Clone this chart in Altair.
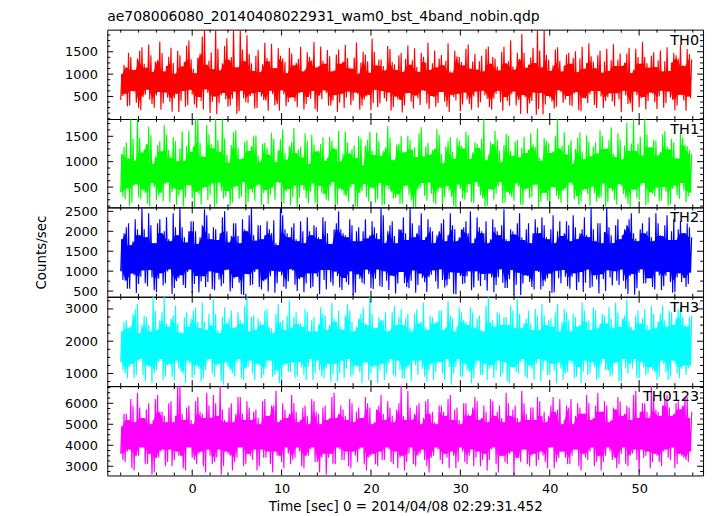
import altair as alt
import pandas as pd

FONT = "DejaVu Sans"
TITLE = "ae708006080_20140408022931_wam0_bst_4band_nobin.qdp"
X_TITLE = "Time [sec] 0 = 2014/04/08 02:29:31.452"
Y_TITLE = "Counts/sec"
NAMES = ["TH0", "TH1", "TH2", "TH3", "TH0123"]
COLORS = ["#ff0000", "#00ff00", "#0000ff", "#00ffff", "#ff00ff"]

# hand-read samples: within each 0.5 s step the curve goes lo -> hi -> lo2 -> hi2
T_START = -8.0
T_STEP = 0.5

X_DOMAIN = [-9.5, 57.15]
X_MAJOR = [0, 10, 20, 30, 40, 50]
X_MINOR = [-8, -6, -4, -2, 2, 4, 6, 8, 12, 14, 16, 18, 22, 24, 26, 28, 32, 34, 36, 38,
           42, 44, 46, 48, 52, 54, 56]

Y_DOMAINS = [[-5, 1995], [100, 1840], [358, 2600], [609, 3378], [2560, 6819]]
Y_MAJOR = [[500, 1000, 1500], [500, 1000, 1500], [500, 1000, 1500, 2000, 2500],
           [1000, 2000, 3000], [3000, 4000, 5000, 6000]]
Y_MINOR_STEP = [125, 125, 250, 250, 250]

TH0_HI = [1000, 1150, 1380, 1090, 1520, 1230, 1660, 1050, 1310, 1470,
          1180, 1590, 1010, 1420, 1270, 1750, 1120, 1360, 1840, 1210,
          1490, 1990, 1080, 1630, 1320, 1990, 1150, 1550, 1870, 1240,
          1410, 1040, 1700, 1290, 1130, 1580, 1350, 1020, 1460, 1250,
          1610, 1100, 1390, 1720, 1170, 1300, 1540, 1060, 1440, 1230,
          1650, 1140, 1370, 1010, 1500, 1280, 1790, 1190, 1330, 1080,
          1560, 1220, 1420, 1050, 1640, 1310, 1160, 1480, 1260, 1090,
          1530, 1350, 1200, 1690, 1030, 1400, 1270, 1570, 1120, 1450,
          1290, 1060, 1620, 1380, 1170, 1500, 1240, 1760, 1100, 1340,
          1470, 1210, 1590, 1990, 1150, 1430, 1070, 1550, 1300, 1190,
          1480, 1360, 1040, 1610, 1250, 1400, 1130, 1520, 1280, 1070,
          1670, 1320, 1180, 1460, 1020, 1570, 1230, 1380, 1140, 1490,
          1310, 1060, 1600, 1260, 1420, 1650, 1180, 1450]
TH0_LO = [420, 560, 300, 610, 240, 480, 650, 330, 520, 200,
          590, 380, 460, 150, 620, 310, 540, 250, 400, 660,
          130, 500, 350, 580, 270, 450, 110, 630, 370, 510,
          230, 600, 420, 180, 550, 330, 640, 280, 470, 390,
          570, 210, 490, 620, 160, 440, 580, 300, 530, 360,
          240, 610, 410, 560, 290, 500, 190, 650, 340, 460,
          590, 260, 430, 140, 570, 380, 520, 310, 620, 220,
          480, 350, 600, 270, 540, 410, 170, 590, 330, 500,
          250, 630, 450, 200, 560, 370, 490, 290, 610, 420,
          530, 120, 400, 90, 580, 320, 470, 230, 640, 360,
          510, 280, 600, 170, 450, 550, 310, 620, 240, 480,
          390, 570, 150, 520, 340, 610, 260, 490, 400, 560,
          220, 630, 350, 470, 190, 540, 410, 500]
TH0_HI2 = [1210, 1480, 1090, 1350, 1600, 1140, 1420, 1280, 1730, 1060,
           1390, 1250, 1520, 1170, 1640, 1330, 1020, 1460, 1990, 1300,
           1110, 1570, 1240, 1800, 1380, 1160, 1990, 1290, 1450, 1070,
           1540, 1220, 1360, 1680, 1130, 1410, 1270, 1590, 1190, 1340,
           1060, 1490, 1310, 1150, 1620, 1230, 1400, 1080, 1550, 1280,
           1360, 1120, 1710, 1260, 1440, 1030, 1500, 1320, 1180, 1630,
           1270, 1090, 1470, 1340, 1210, 1580, 1050, 1390, 1700, 1240,
           1150, 1430, 1300, 1060, 1520, 1380, 1190, 1660, 1280, 1100,
           1410, 1560, 1230, 1350, 1080, 1610, 1290, 1170, 1480, 1900,
           1140, 1370, 1250, 1530, 1990, 1320, 1200, 1600, 1060, 1440,
           1230, 1510, 1350, 1120, 1690, 1280, 1420, 1030, 1570, 1310,
           1180, 1460, 1260, 1590, 1100, 1380, 1720, 1240, 1410, 1160,
           1530, 1290, 1070, 1470, 1350, 1200, 1560, 1330]
TH0_LO2 = [510, 280, 620, 360, 190, 540, 430, 250, 600, 340,
           470, 160, 560, 400, 270, 650, 320, 490, 210, 580,
           380, 100, 530, 440, 290, 610, 170, 460, 350, 570,
           240, 500, 410, 630, 300, 180, 550, 370, 480, 260,
           600, 330, 450, 220, 520, 640, 290, 410, 150, 560,
           470, 310, 590, 200, 430, 540, 350, 260, 620, 390,
           180, 500, 420, 300, 580, 230, 460, 640, 340, 510,
           270, 600, 380, 150, 490, 560, 320, 430, 200, 610,
           370, 520, 260, 450, 630, 180, 400, 550, 300, 110,
           480, 340, 590, 220, 100, 510, 380, 270, 600, 430,
           310, 560, 190, 470, 350, 620, 240, 500, 400, 570,
           280, 440, 630, 330, 160, 530, 460, 210, 590, 370,
           500, 250, 610, 420, 300, 540, 180, 460]

TH1_HI = [1150, 1380, 1837, 1020, 1470, 1240, 1690, 960, 1330, 1200,
          1540, 1080, 1400, 1260, 1010, 1610, 1300, 1837, 1120, 1720,
          1350, 1837, 1190, 1460, 980, 1580, 1270, 1060, 1420, 1310,
          1520, 990, 1370, 1140, 1450, 1230, 1640, 1040, 1390, 1170,
          1290, 1560, 950, 1340, 1210, 1480, 1070, 1410, 1250, 1000,
          1600, 1160, 1320, 1500, 930, 1430, 1220, 1570, 1110, 1280,
          1470, 1030, 1360, 1180, 1510, 1240, 1090, 1680, 1300, 1130,
          1260, 1530, 970, 1400, 1190, 1460, 1320, 1590, 1050, 1380,
          1270, 1837, 1120, 1350, 1440, 990, 1550, 1210, 1390, 1080,
          1490, 1230, 1340, 1650, 1020, 1410, 1170, 1500, 1260, 1580,
          1330, 960, 1470, 1200, 1520, 1100, 1380, 1620, 1250, 1420,
          1150, 1560, 1040, 1760, 1360, 1210, 1490, 1837, 1280, 1430,
          1120, 1540, 1300, 1450, 1070, 1570, 1340, 1230]
TH1_LO = [400, 260, 130, 520, 300, 450, 170, 580, 240, 390,
          560, 200, 470, 330, 120, 540, 280, 410, 150, 500,
          350, 110, 590, 270, 430, 190, 520, 310, 120, 460,
          230, 550, 380, 160, 490, 600, 220, 420, 140, 530,
          290, 440, 180, 570, 120, 380, 250, 510, 160, 470,
          340, 210, 560, 110, 420, 300, 490, 190, 580, 150,
          450, 270, 360, 170, 530, 240, 110, 480, 330, 590,
          200, 410, 140, 520, 310, 110, 460, 250, 560, 180,
          500, 280, 130, 440, 370, 600, 190, 350, 230, 510,
          140, 470, 300, 550, 210, 390, 110, 490, 260, 430,
          170, 540, 320, 220, 460, 130, 380, 280, 570, 200,
          420, 150, 510, 290, 110, 450, 240, 580, 180, 370,
          490, 230, 410, 160, 530, 270, 440, 320]
TH1_HI2 = [1290, 1060, 1450, 1837, 1180, 1350, 1520, 1100, 1400, 1720,
           1230, 1480, 1010, 1600, 1310, 1190, 1837, 1370, 1090, 1540,
           1260, 1430, 1837, 1140, 1330, 1620, 1050, 1390, 1210, 1500,
           1120, 1360, 1280, 1570, 990, 1440, 1170, 1310, 1660, 1240,
           1080, 1410, 1530, 1200, 1350, 1020, 1490, 1270, 1610, 1150,
           1380, 1250, 1070, 1460, 1320, 1590, 1130, 1400, 1210, 1700,
           1040, 1340, 1500, 1190, 1420, 1280, 1560, 1100, 1370, 1230,
           1640, 1160, 1300, 1480, 1060, 1410, 1260, 1520, 1180, 1350,
           1450, 1030, 1390, 1610, 1220, 1330, 1510, 1110, 1430, 1270,
           1170, 1560, 1290, 1080, 1470, 1370, 1200, 1837, 1310, 1140,
           1420, 1250, 1580, 1050, 1390, 1300, 1160, 1500, 1260, 1680,
           1090, 1440, 1320, 1210, 1837, 1360, 1120, 1540, 1280, 1410,
           1190, 1600, 1240, 1380, 1060, 1470, 1310, 1150]
TH1_LO2 = [310, 470, 190, 560, 260, 380, 120, 500, 330, 220,
           590, 400, 150, 450, 290, 530, 110, 360, 480, 240,
           570, 170, 420, 310, 130, 490, 270, 600, 200, 390,
           510, 140, 440, 350, 250, 580, 180, 460, 300, 110,
           540, 280, 410, 190, 520, 360, 230, 600, 150, 430,
           320, 490, 120, 380, 560, 210, 470, 260, 140, 530,
           400, 290, 170, 510, 350, 110, 450, 580, 230, 370,
           160, 490, 300, 420, 130, 550, 270, 390, 200, 600,
           340, 120, 460, 250, 520, 180, 410, 310, 570, 150,
           440, 280, 540, 110, 380, 230, 500, 330, 190, 470,
           590, 260, 140, 430, 360, 510, 210, 300, 120, 480,
           250, 560, 370, 170, 450, 290, 530, 140, 400, 320,
           220, 500, 130, 460, 340, 580, 200, 390]

TH2_HI = [1800, 2100, 1650, 2300, 1900, 2050, 2450, 1700, 2200, 1950,
          2350, 1750, 2100, 2600, 1850, 2000, 2250, 1680, 2150, 2400,
          1800, 2050, 1950, 2500, 1720, 2200, 1880, 2300, 2000, 2600,
          1760, 2150, 1900, 2050, 2280, 1650, 2400, 1950, 2100, 1800,
          2250, 1700, 2000, 2150, 1850, 2350, 1950, 1680, 2200, 2050,
          1900, 2300, 1750, 2100, 2000, 1820, 2250, 1950, 2600, 1700,
          2150, 1880, 2050, 2350, 1780, 2200, 1950, 2450, 1850, 2100,
          1700, 2000, 2300, 1900, 2150, 1750, 2050, 2250, 2500, 1820,
          2100, 1950, 1700, 2300, 2000, 2150, 1800, 2050, 1920, 2450,
          1780, 2200, 1950, 2100, 2350, 1850, 2050, 1700, 2250, 1950,
          2150, 2400, 1800, 2050, 1900, 2600, 1750, 2200, 1980, 2100,
          1700, 2300, 1900, 2150, 2450, 1820, 2050, 1950, 2350, 1750,
          2200, 1880, 2400, 2000, 1780, 2250, 1950, 2100]
TH2_LO = [1000, 760, 560, 900, 680, 1020, 620, 840, 470, 950,
          700, 1050, 580, 820, 650, 980, 450, 880, 740, 600,
          1000, 520, 790, 690, 1040, 570, 860, 420, 930, 640,
          980, 600, 750, 490, 1010, 700, 890, 560, 1050, 660,
          800, 470, 950, 610, 860, 1030, 540, 720, 990, 590,
          830, 660, 400, 920, 710, 1040, 570, 810, 630, 1000,
          530, 870, 690, 980, 600, 760, 460, 940, 720, 850,
          1020, 560, 780, 640, 970, 420, 880, 700, 1000, 590,
          760, 930, 510, 840, 650, 1050, 580, 800, 400, 960,
          690, 880, 600, 1010, 540, 750, 940, 470, 820, 1030,
          620, 860, 530, 980, 710, 580, 900, 440, 800, 1020,
          640, 760, 1040, 560, 870, 410, 960, 690, 820, 600,
          990, 520, 880, 730, 470, 950, 830, 680]
TH2_HI2 = [1950, 2200, 1750, 2050, 2600, 1850, 2150, 1700, 2300, 2000,
           1800, 2450, 1900, 2100, 1720, 2250, 2000, 1850, 2550, 1950,
           2100, 1780, 2350, 2000, 1880, 2200, 1700, 2050, 2400, 1900,
           2150, 1800, 2250, 1950, 1700, 2600, 2050, 1850, 2200, 1750,
           2000, 2350, 1900, 2100, 1800, 2250, 1680, 2050, 2500, 1950,
           1850, 2150, 2000, 1750, 2300, 1900, 2100, 1800, 2400, 2000,
           2250, 1700, 2050, 1950, 2600, 1850, 2150, 1780, 2300, 2000,
           1900, 2200, 1750, 2450, 2050, 1850, 2100, 1950, 1700, 2350,
           2000, 2250, 1800, 2100, 1900, 2550, 1750, 2000, 2200, 1850,
           2050, 1700, 2300, 1950, 2150, 1800, 2400, 2000, 1880, 2250,
           1750, 2100, 1950, 2350, 1850, 2050, 2200, 1700, 2600, 1900,
           2150, 1800, 2050, 2300, 1950, 1750, 2200, 2000, 1850, 2450,
           1900, 2150, 1780, 2300, 2050, 1950, 2200, 1850]
TH2_LO2 = [780, 560, 940, 450, 860, 700, 1030, 520, 810, 640,
           990, 430, 750, 900, 580, 1040, 680, 470, 870, 730,
           550, 960, 620, 1020, 490, 830, 710, 400, 920, 660,
           1050, 540, 790, 870, 460, 990, 610, 740, 1010, 500,
           850, 690, 570, 950, 420, 780, 1030, 640, 880, 530,
           720, 1000, 460, 810, 670, 930, 550, 1040, 600, 760,
           890, 440, 980, 700, 570, 1020, 650, 830, 480, 910,
           740, 1050, 590, 800, 430, 960, 680, 870, 520, 1000,
           630, 770, 940, 470, 850, 710, 580, 1030, 660, 400,
           900, 730, 540, 980, 620, 820, 450, 1010, 690, 860,
           560, 950, 720, 480, 1040, 610, 790, 920, 500, 840,
           1000, 650, 760, 430, 930, 570, 1050, 700, 820, 540,
           890, 620, 980, 460, 840, 730, 600, 960]

TH3_HI = [2300, 2650, 2450, 3000, 2250, 2800, 2500, 3378, 2350, 2900,
          2550, 2700, 3100, 2300, 2750, 2450, 2950, 2600, 3200, 2350,
          2500, 2850, 2250, 3050, 2700, 2400, 2900, 2550, 3378, 2750,
          2350, 2600, 2950, 2450, 2250, 3150, 2650, 2800, 2400, 2900,
          2550, 3000, 2300, 2750, 2500, 2850, 2350, 3200, 2600, 2450,
          2800, 2950, 2300, 2700, 3050, 2500, 2850, 2400, 2650, 2900,
          2350, 3100, 2750, 2500, 2850, 2300, 3000, 2600, 2450, 2800,
          2550, 2950, 2350, 3250, 2700, 2450, 2900, 2600, 3050, 2400,
          2800, 2300, 3378, 2650, 2900, 2500, 2750, 3100, 2400, 2850,
          2550, 2950, 2350, 2800, 3150, 2500, 2700, 2900, 2300, 3000,
          2650, 2850, 2450, 3200, 2600, 2350, 2950, 2550, 2800, 3050,
          2400, 2900, 2700, 3300, 2450, 2800, 2550, 3000, 2350, 2850,
          2600, 3100, 2450, 2900, 2700, 3050, 2500, 2750]
TH3_LO = [1350, 1000, 1200, 850, 1400, 950, 1250, 700, 1100, 1450,
          900, 1300, 800, 1150, 1000, 1400, 850, 1250, 750, 1100,
          1450, 900, 1300, 650, 1200, 1000, 1350, 850, 1150, 1400,
          800, 1250, 950, 1400, 900, 1100, 700, 1300, 1050, 850,
          1350, 950, 1200, 800, 1400, 900, 1150, 750, 1300, 1000,
          850, 1450, 950, 1200, 700, 1350, 1000, 1250, 1100, 800,
          1300, 950, 1400, 850, 1150, 750, 1250, 1400, 900, 1100,
          800, 1350, 1000, 1450, 650, 1200, 900, 1300, 1050, 850,
          1400, 950, 800, 1250, 1100, 900, 1350, 700, 1200, 1000,
          1450, 850, 1150, 1300, 750, 1400, 950, 1100, 1350, 800,
          1050, 1300, 900, 700, 1400, 1000, 1200, 850, 1450, 1100,
          950, 1350, 750, 1150, 1300, 1450, 850, 1200, 1000, 1100,
          800, 1400, 1050, 900, 1300, 850, 1250, 1150]
TH3_HI2 = [2600, 2400, 2850, 3150, 2500, 2750, 2300, 2950, 2650, 3378,
           2450, 2800, 2550, 2250, 2900, 2700, 3050, 2400, 2600, 2850,
           3300, 2350, 2750, 2550, 2950, 2450, 2650, 3100, 2300, 2800,
           2700, 2500, 3000, 2400, 2850, 2600, 2350, 3250, 2750, 2550,
           2450, 2900, 2650, 2300, 3050, 2800, 2500, 2700, 2950, 2350,
           3150, 2600, 2450, 2850, 2550, 3378, 2400, 2750, 2650, 2300,
           2900, 2500, 3000, 2700, 2400, 2850, 2550, 3200, 2350, 2750,
           2600, 2950, 2450, 2800, 2300, 3050, 2650, 2500, 2900, 2700,
           2350, 3100, 2600, 2450, 2850, 2750, 2500, 2950, 3300, 2400,
           2700, 2550, 3000, 2350, 2800, 2650, 2450, 3150, 2600, 2900,
           2300, 2750, 2500, 2950, 2650, 3050, 2400, 2850, 2550, 2700,
           3200, 2450, 2800, 2600, 2350, 2950, 2700, 2500, 3100, 2400,
           2850, 2650, 2950, 2500, 3000, 2750, 2450, 2800]
TH3_LO2 = [1100, 850, 1300, 950, 1450, 750, 1200, 1000, 1350, 800,
           1250, 900, 1400, 1050, 700, 1300, 950, 1150, 850, 1400,
           1000, 1250, 750, 1350, 1100, 900, 1450, 800, 1200, 1000,
           1300, 850, 1150, 1400, 950, 700, 1250, 1050, 1350, 900,
           1200, 800, 1450, 1000, 1100, 850, 1300, 950, 750, 1400,
           1150, 900, 1250, 1050, 1350, 800, 1200, 700, 1300, 1000,
           1450, 900, 1100, 850, 1250, 1400, 950, 1150, 750, 1300,
           1050, 1350, 800, 1200, 1000, 1450, 900, 1100, 700, 1250,
           950, 1300, 1150, 850, 1400, 1000, 750, 1200, 1050, 1350,
           900, 1250, 800, 1450, 1100, 950, 1300, 700, 1150, 1000,
           1400, 850, 1200, 1050, 950, 1350, 800, 1250, 1100, 900,
           1300, 750, 1450, 1000, 1150, 850, 1350, 950, 1200, 1050,
           900, 1300, 800, 1400, 1000, 1150, 950, 1250]

TH0123_HI = [4900, 5500, 6200, 5100, 5800, 5300, 6000, 5200, 6400, 5600,
             5100, 6100, 5400, 6819, 5200, 5900, 5000, 6300, 5500, 6500,
             5300, 6000, 6819, 5200, 5800, 5100, 6300, 5500, 6100, 5200,
             5700, 5000, 6200, 5400, 5900, 5100, 6000, 5300, 6400, 5600,
             5200, 5900, 5000, 6100, 5500, 5800, 5200, 6300, 5300, 5900,
             5400, 6200, 5100, 5800, 5300, 6000, 5000, 5700, 6400, 5200,
             5800, 5100, 6000, 5400, 6600, 5200, 5900, 5000, 6100, 5500,
             5100, 5900, 5600, 6200, 5200, 5800, 5000, 6000, 5400, 6300,
             5200, 5900, 5100, 6100, 5600, 5300, 6500, 5400, 5900, 5100,
             6000, 5200, 5800, 6300, 5400, 5100, 5900, 5600, 6200, 5200,
             5800, 5000, 6000, 5500, 6400, 5200, 5900, 5600, 6100, 5100,
             5800, 6300, 5400, 5900, 5200, 6600, 5600, 6000, 5300, 6200,
             5600, 5900, 6400, 5400, 6000, 5700, 6300, 5300]
TH0123_LO = [3600, 3200, 3800, 2800, 3500, 3900, 3100, 2600, 3400, 3700,
             3000, 3800, 3300, 3500, 2900, 3900, 3400, 3100, 3700, 2700,
             3500, 3200, 3800, 3000, 3600, 2800, 3400, 3900, 3100, 3500,
             3800, 3000, 3400, 3700, 2700, 3500, 3200, 3900, 3100, 3400,
             3700, 2900, 3500, 3900, 3200, 3400, 2600, 3600, 3100, 3800,
             3300, 3000, 3700, 3200, 3900, 2800, 3500, 3100, 3700, 3300,
             3800, 3100, 2900, 3500, 3200, 3900, 3000, 3600, 3300, 2700,
             3500, 3800, 3100, 3400, 3700, 2900, 3900, 3200, 3500, 3000,
             3700, 3300, 2800, 3800, 3100, 3500, 3200, 3600, 2600, 3400,
             3800, 3100, 3500, 3000, 3700, 3200, 3900, 2900, 3400, 3700,
             3100, 3500, 3800, 2800, 3400, 3700, 3000, 3500, 3200, 3900,
             3300, 2900, 3600, 3100, 3500, 3800, 2700, 3400, 3700, 3200,
             3500, 3000, 3800, 3300, 2900, 3600, 3400, 3200]
TH0123_HI2 = [5500, 5200, 5900, 6500, 5300, 5700, 5000, 6200, 5600, 5400,
              6000, 5100, 6819, 5500, 5800, 5200, 6100, 5600, 5300, 5900,
              6400, 5400, 5700, 5100, 6000, 5500, 6300, 5200, 5800, 5600,
              5300, 6100, 5400, 5900, 6600, 5200, 5700, 5500, 6000, 5100,
              5800, 5400, 6200, 5600, 5000, 5900, 5300, 6500, 5500, 5700,
              5200, 6000, 5600, 5300, 6300, 5800, 5100, 5900, 5500, 6100,
              5400, 5700, 6819, 5200, 5800, 5500, 6000, 5300, 6200, 5600,
              5000, 5900, 5400, 6400, 5700, 5200, 6000, 5500, 5800, 6100,
              5300, 5600, 6200, 5400, 5900, 5100, 6000, 5700, 5300, 6600,
              5500, 5800, 5200, 6100, 5600, 5400, 6300, 5700, 5000, 5900,
              6200, 5400, 5800, 5500, 6000, 5300, 6500, 5600, 5900, 5200,
              5700, 6100, 5500, 5800, 6400, 5300, 6000, 5600, 6819, 5700,
              5400, 6200, 5800, 5500, 6100, 5900, 6300, 5600]
TH0123_LO2 = [3300, 3700, 2900, 3500, 3900, 3100, 3600, 2700, 3400, 3800,
              3200, 3000, 3700, 3500, 2800, 3900, 3300, 3600, 3000, 3800,
              3100, 3400, 2600, 3700, 3500, 3200, 3900, 3000, 3600, 3300,
              2800, 3800, 3400, 3100, 3700, 3500, 2900, 3600, 3300, 3900,
              3000, 3500, 3800, 3200, 2700, 3600, 3400, 3100, 3900, 3300,
              3700, 2900, 3500, 3800, 3100, 3400, 3600, 3000, 3300, 3900,
              3200, 3700, 3400, 2800, 3600, 3100, 3500, 3800, 3000, 3400,
              3900, 3300, 3600, 2900, 3500, 3200, 3700, 3100, 3800, 3400,
              3000, 3600, 3300, 3900, 2700, 3500, 3100, 3700, 3400, 3200,
              3800, 3000, 3600, 3300, 3500, 2900, 3900, 3200, 3700, 3400,
              3100, 3800, 3000, 3600, 3300, 3900, 3200, 2800, 3500, 3700,
              3400, 3100, 3900, 3000, 3600, 3300, 3800, 3500, 2900, 3600,
              3200, 3700, 3400, 3900, 3100, 3500, 3300, 3700]

SERIES = [(TH0_LO, TH0_HI, TH0_LO2, TH0_HI2),
          (TH1_LO, TH1_HI, TH1_LO2, TH1_HI2),
          (TH2_LO, TH2_HI, TH2_LO2, TH2_HI2),
          (TH3_LO, TH3_HI, TH3_LO2, TH3_HI2),
          (TH0123_LO, TH0123_HI, TH0123_LO2, TH0123_HI2)]

W = 600
HEIGHTS = [90, 89, 90, 90, 90]
MAJ = 6
MIN = 3


def line_frame(arrs):
    rows = []
    q = T_STEP / 4
    for i, vals in enumerate(zip(*arrs)):
        t = T_START + T_STEP * i
        for j, v in enumerate(vals):
            rows.append({"t": t + j * q, "v": v})
    return pd.DataFrame(rows)


def core_frame(arrs):
    lo, hi, lo2, hi2 = arrs
    lows, highs, ts = [], [], []
    for i, (a, b, c, d) in enumerate(zip(lo, hi, lo2, hi2)):
        t = T_START + T_STEP * i
        lows += [a, c]
        highs += [b, d]
        ts += [t + T_STEP / 8, t + 3 * T_STEP / 8]
    c_lo = pd.Series(lows).rolling(3, center=True, min_periods=1).max()
    c_hi = pd.Series(highs).rolling(3, center=True, min_periods=1).min()
    return pd.DataFrame({"t": ts, "v": c_lo.values, "v2": c_hi.values})


def panel(k, show_x, y_title):
    H = HEIGHTS[k]
    color = COLORS[k]
    xs = alt.Scale(domain=X_DOMAIN, nice=False, zero=False)
    ys = alt.Scale(domain=Y_DOMAINS[k], nice=False, zero=False)
    arrs = SERIES[k]

    if show_x:
        xaxis = alt.Axis(values=X_MAJOR, format="d", ticks=False, tickSize=0, domain=False,
                         grid=False, labelFont=FONT, labelFontSize=13, labelColor="black",
                         labelPadding=7, labelFlush=False, title=X_TITLE, titleFont=FONT,
                         titleFontSize=13.5, titleFontWeight="normal", titleColor="black",
                         titlePadding=4)
    else:
        xaxis = None
    yaxis = alt.Axis(values=Y_MAJOR[k], format="d", ticks=False, tickSize=0, domain=False,
                     grid=False, labelFont=FONT, labelFontSize=13, labelColor="black",
                     labelPadding=10, labelFlush=False, labelOverlap=False,
                     title=y_title, titleFont=FONT, titleFontSize=13.5,
                     titleFontWeight="normal", titleColor="black", titlePadding=16)

    def X():
        return alt.X("t:Q", scale=xs, axis=xaxis)

    def Y():
        return alt.Y("v:Q", scale=ys, axis=yaxis)

    line = alt.Chart(line_frame(arrs)).mark_line(
        color=color, strokeWidth=1.15, clip=True, strokeJoin="bevel").encode(
        x=X(), y=Y(), order="t:Q")
    core = alt.Chart(core_frame(arrs)).mark_area(color=color, clip=True).encode(
        x=X(), y=Y(), y2="v2:Q")

    dmin = Y_DOMAINS[k]
    ymin_vals = [v for v in range(0, 7000, Y_MINOR_STEP[k])
                 if dmin[0] < v < dmin[1] and v not in Y_MAJOR[k]]
    ymaj = pd.DataFrame({"v": Y_MAJOR[k]})
    ymin = pd.DataFrame({"v": ymin_vals})
    xmaj = pd.DataFrame({"t": X_MAJOR})
    xmin = pd.DataFrame({"t": X_MINOR})

    rules = []
    for df, ln in ((ymaj, MAJ), (ymin, MIN)):
        base = alt.Chart(df).mark_rule(color="black", strokeWidth=1)
        rules.append(base.encode(y=Y(), x=alt.value(0), x2=alt.value(ln)))
        rules.append(base.encode(y=Y(), x=alt.value(W - ln), x2=alt.value(W)))
    for df, ln in ((xmaj, MAJ), (xmin, MIN)):
        base = alt.Chart(df).mark_rule(color="black", strokeWidth=1)
        rules.append(base.encode(x=X(), y=alt.value(0), y2=alt.value(ln)))
        rules.append(base.encode(x=X(), y=alt.value(H - ln), y2=alt.value(H)))

    label = alt.Chart(pd.DataFrame({"name": [NAMES[k]]})).mark_text(
        align="right", baseline="top", font=FONT, fontSize=14.5, color="black"
    ).encode(x=alt.value(W - 4), y=alt.value(4), text="name:N")

    ch = alt.layer(core, line, *rules, label).properties(width=W, height=H)
    if k == 0:
        ch = ch.properties(title=alt.TitleParams(TITLE, anchor="start", frame="group", font=FONT,
                                                 fontSize=14, fontWeight="normal",
                                                 color="black", offset=5))
    return ch


panels = [panel(k, k == 4, Y_TITLE if k == 2 else None) for k in range(5)]

chart = alt.vconcat(*panels, spacing=0, bounds="flush").properties(
    padding={"left": 26, "top": 0, "right": 5, "bottom": 0}
).configure_view(stroke="black", strokeWidth=1)

chart.save("out.html", embed_options={"renderer": "svg", "actions": False})
